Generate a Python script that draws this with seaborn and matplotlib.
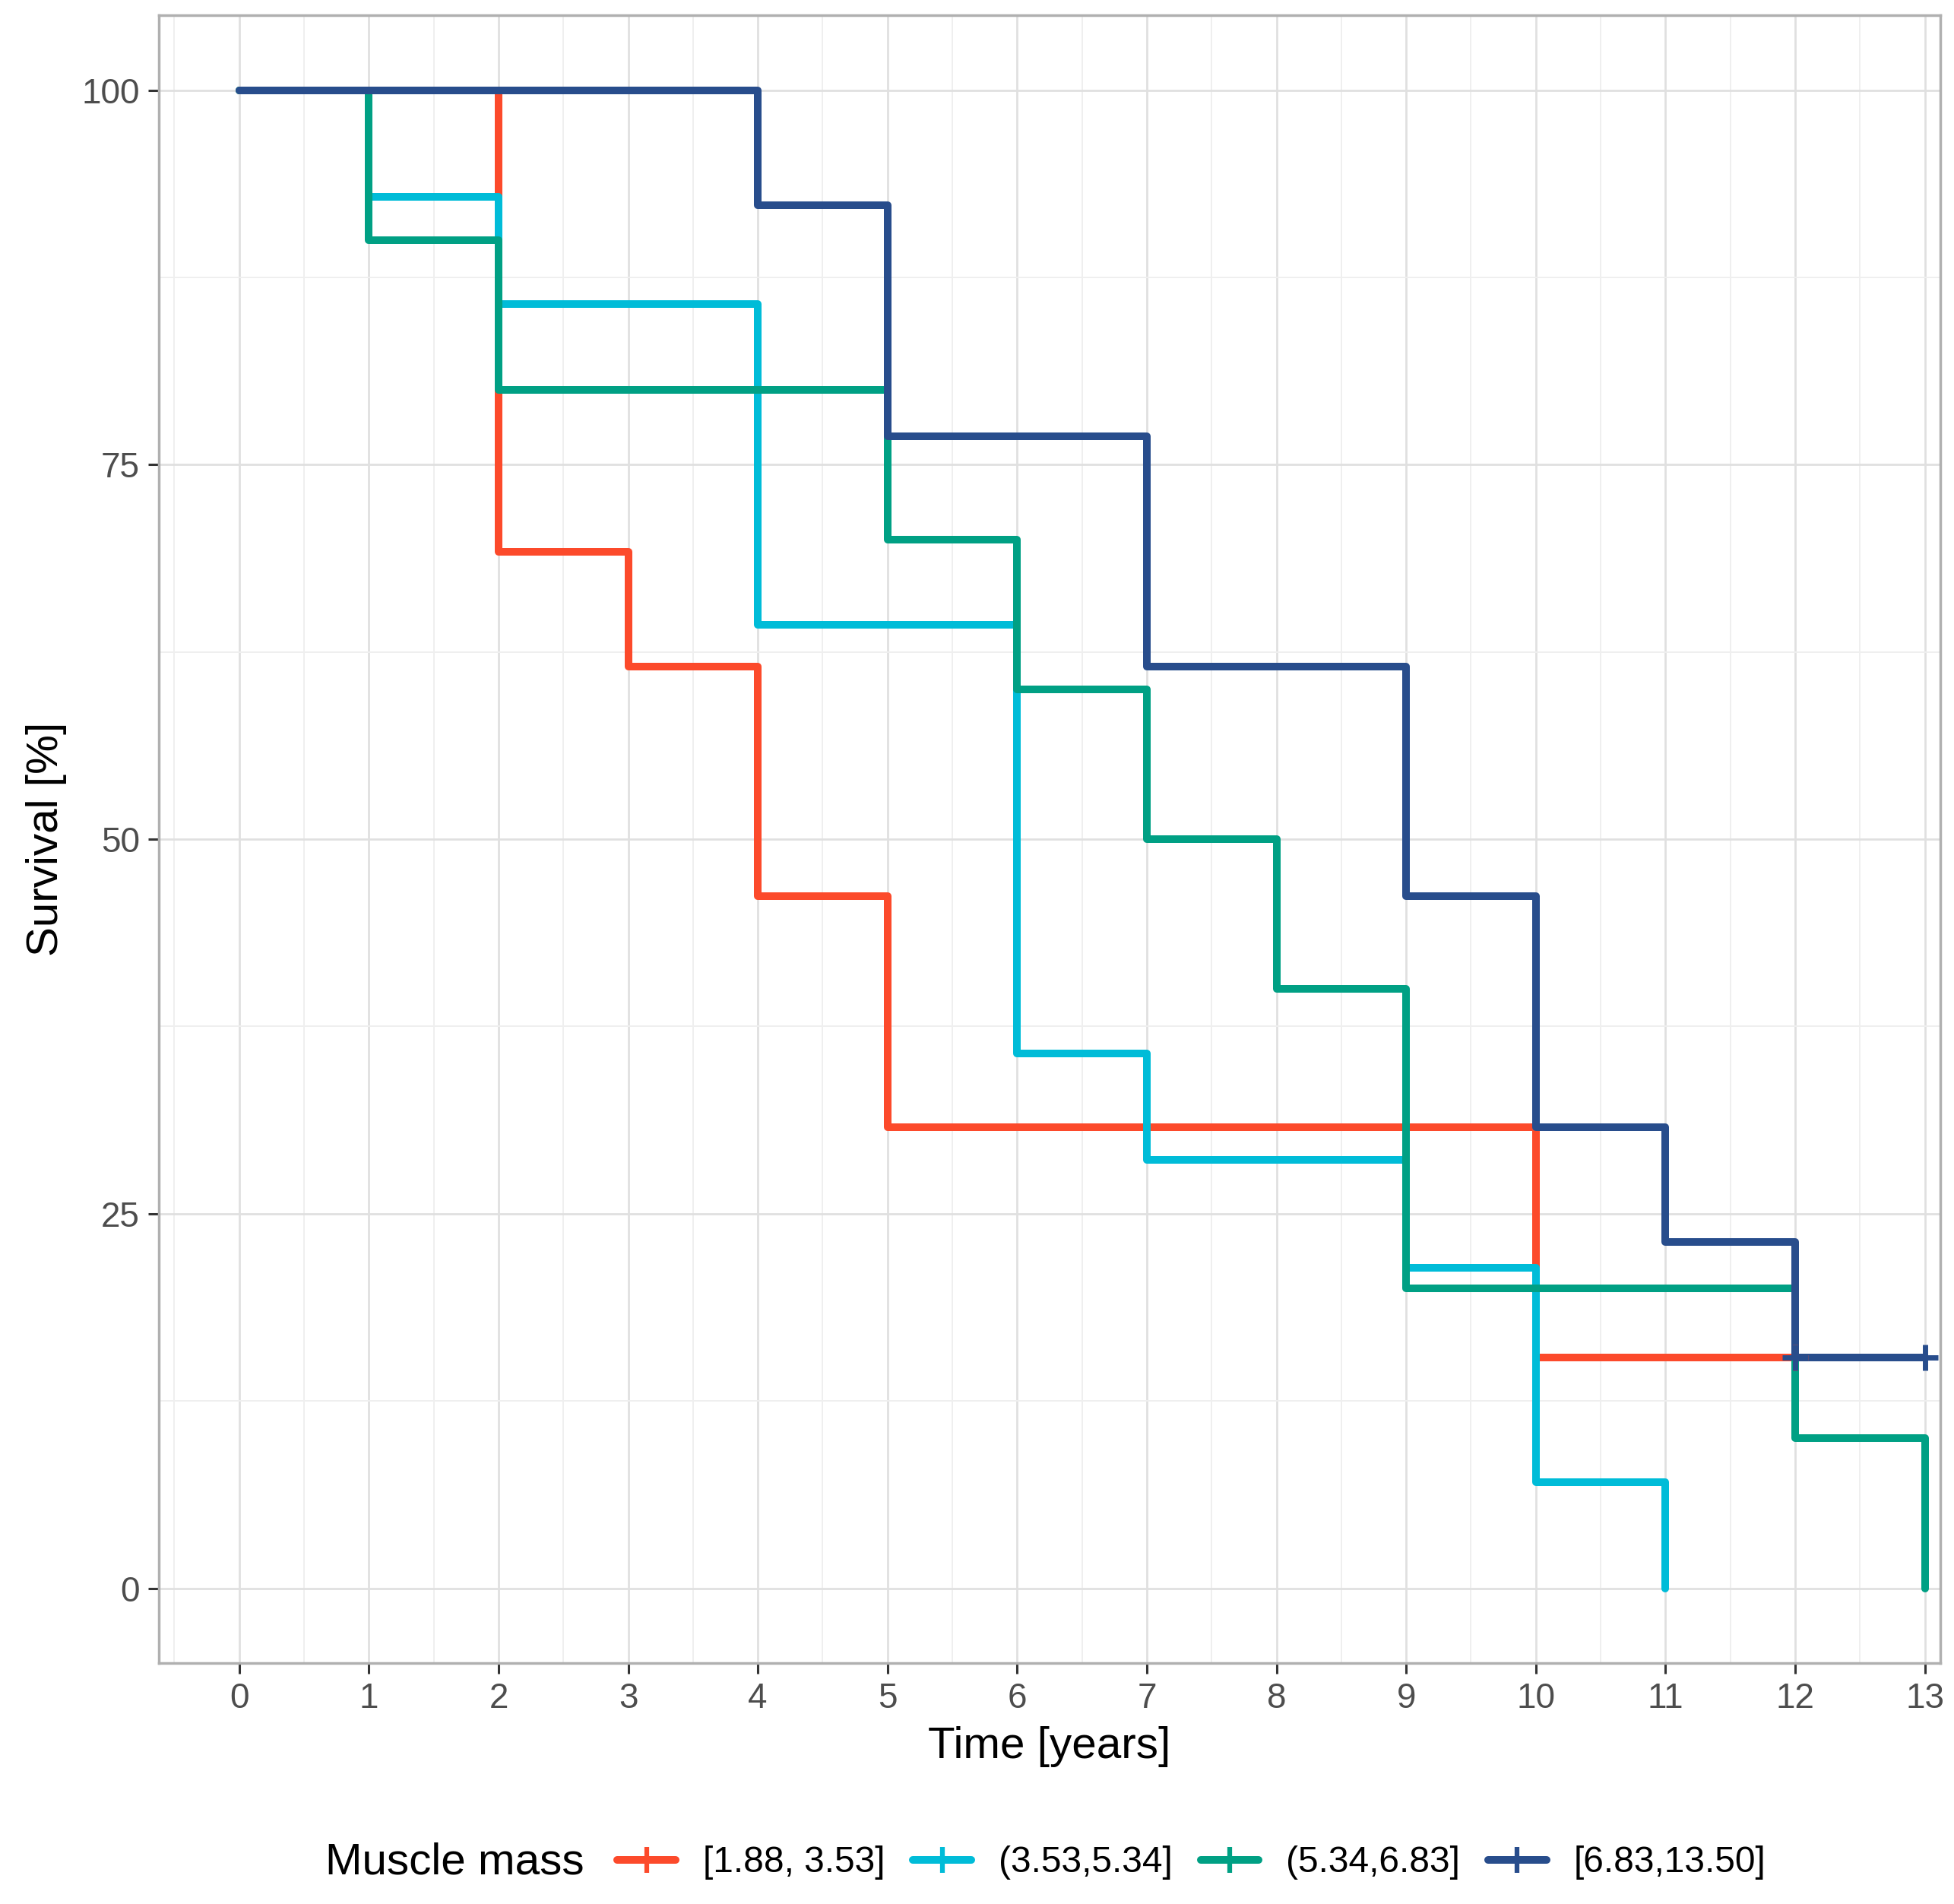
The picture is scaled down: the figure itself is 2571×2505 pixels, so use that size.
import numpy as np
import pandas as pd
import seaborn as sns
import matplotlib.pyplot as plt
from matplotlib.lines import Line2D

# groups of muscle mass and colours
groups = ["[1.88, 3.53]", "(3.53,5.34]", "(5.34,6.83]", "[6.83,13.50]"]
colors = ["#FC4A2B", "#00BCD8", "#00A084", "#284D8C"]

# Kaplan-Meier steps (time in years, survival in %)
time_g1 = [0, 2, 3, 4, 5, 10, 12]
surv_g1 = [100, 69.2, 61.5, 46.2, 30.8, 15.4, 15.4]

time_g2 = [0, 1, 2, 4, 6, 7, 9, 10, 11]
surv_g2 = [100, 92.9, 85.7, 64.3, 35.7, 28.6, 21.4, 7.1, 0]

time_g3 = [0, 1, 2, 5, 6, 7, 8, 9, 12, 13]
surv_g3 = [100, 90, 80, 70, 60, 50, 40, 20, 10, 0]

time_g4 = [0, 4, 5, 7, 9, 10, 11, 12, 13]
surv_g4 = [100, 92.3, 76.9, 61.5, 46.2, 30.8, 23.1, 15.4, 15.4]

# censored observations
cens_group = ["[1.88, 3.53]", "[6.83,13.50]", "[6.83,13.50]"]
cens_time = [12, 12, 13]
cens_surv = [15.4, 15.4, 15.4]

frames = []
for g, t, s in zip(groups, [time_g1, time_g2, time_g3, time_g4],
                   [surv_g1, surv_g2, surv_g3, surv_g4]):
    frames.append(pd.DataFrame({"group": g, "time": t, "surv": s}))
km = pd.concat(frames, ignore_index=True)
cens = pd.DataFrame({"group": cens_group, "time": cens_time, "surv": cens_surv})

sns.set_style("white")
plt.rcParams['font.family'] = ['Liberation Sans', 'DejaVu Sans']

fig = plt.figure(figsize=(25.71, 25.05), dpi=100)
ax = fig.add_axes([0.0813, 0.1265, 0.9117, 0.8655])

sns.lineplot(data=km, x="time", y="surv", hue="group", hue_order=groups,
             palette=colors, drawstyle="steps-post", linewidth=7.2,
             estimator=None, sort=False, legend=False, ax=ax)
sns.scatterplot(data=cens, x="time", y="surv", hue="group", hue_order=groups,
                palette=colors, marker="+", s=625, linewidth=5,
                legend=False, ax=ax, zorder=3)

ax.set_xlim(-0.62, 13.12)
ax.set_ylim(-5, 105)
ax.set_xticks(range(0, 14))
ax.set_xticks(np.arange(-0.5, 13.5, 0.5), minor=True)
ax.set_yticks([0, 25, 50, 75, 100])
ax.set_yticks([12.5, 37.5, 62.5, 87.5], minor=True)
ax.grid(which="major", color="#E0E0E0", linewidth=2)
ax.grid(which="minor", color="#EFEFEF", linewidth=1.4)
ax.set_axisbelow(True)
ax.tick_params(which="major", length=10, width=2.2, color="#333333",
               labelsize=33, labelcolor="#4D4D4D", pad=8, bottom=True, left=True)
ax.tick_params(which="minor", length=0)
for sp in ax.spines.values():
    sp.set_color("#B0B0B0")
    sp.set_linewidth(2.5)

ax.set_xlabel("Time [years]", fontsize=42, labelpad=10, color="black")
ax.set_ylabel("Survival [%]", fontsize=42, labelpad=14, color="black")

# legend at the bottom with inline title
handles = [Line2D([0], [0], color=c, lw=7.2, marker="+", markersize=25,
                  markeredgewidth=4.5) for c in colors]
fig.legend(handles, groups, loc="center left", bbox_to_anchor=(0.316, 0.0216),
           ncol=4, frameon=False, fontsize=34.5, handlelength=1.6,
           handletextpad=0.75, columnspacing=0.77, borderpad=0, borderaxespad=0,
           labelcolor="black")
fig.text(0.1665, 0.0216, "Muscle mass", fontsize=42, va="center", ha="left",
         color="black")

fig.savefig("out.png", dpi=100)
